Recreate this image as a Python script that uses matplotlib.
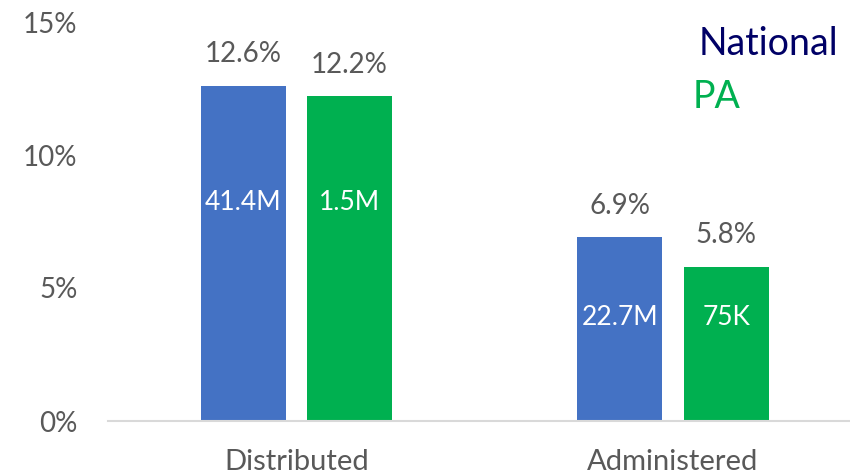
import matplotlib.pyplot as plt
import numpy as np

# ---------- datos ----------
categories = ['Distributed', 'Administered']
national_pct = [12.6, 6.9]
pa_pct = [12.2, 5.8]
national_counts = ['41.4M', '22.7M']
pa_counts = ['1.5M', '75K']
count_label_y = [8.2, 3.9]   # posición vertical aprox. de las etiquetas internas

blue = '#4472C4'
green = '#00B050'
navy = '#000066'
grey = '#595959'

plt.rcParams['font.family'] = ['Lato', 'DejaVu Sans']

fig = plt.figure(figsize=(8.5, 4.76), dpi=100)
ax = fig.add_axes([108 / 850, (476 - 421) / 476, 1 - 108 / 850, (421 - 22) / 476])

x = np.arange(len(categories))
w = 0.226
off = 0.141

b1 = ax.bar(x - off, national_pct, w, color=blue, zorder=2)
b2 = ax.bar(x + off, pa_pct, w, color=green, zorder=2)

# etiquetas de porcentaje encima de las barras
for bars, vals in ((b1, national_pct), (b2, pa_pct)):
    for r, v in zip(bars, vals):
        ax.text(r.get_x() + r.get_width() / 2, v + 1.2, f'{v}%',
                ha='center', va='center', fontsize=20, color=grey)

# etiquetas internas (conteos)
for bars, labs in ((b1, national_counts), (b2, pa_counts)):
    for r, lab, yy in zip(bars, labs, count_label_y):
        ax.text(r.get_x() + r.get_width() / 2, yy, lab,
                ha='center', va='center', fontsize=19, color='white')

ax.set_xlim(-0.5, 1.47)
ax.set_ylim(0, 15)
ax.set_yticks([0, 5, 10, 15])
ax.set_yticklabels(['0%', '5%', '10%', '15%'])
ax.set_xticks(x)
ax.set_xticklabels(categories)
ax.tick_params(axis='y', length=0, pad=22, labelsize=20, labelcolor=grey)
ax.tick_params(axis='x', length=0, pad=20, labelsize=21, labelcolor=grey)

for s in ('top', 'right', 'left'):
    ax.spines[s].set_visible(False)
ax.spines['bottom'].set_color('#D9D9D9')
ax.spines['bottom'].set_linewidth(1.5)

# leyenda como texto
fig.text(838 / 850, 1 - 44 / 476, 'National', ha='right', va='center',
         fontsize=27, color=navy)
fig.text(693 / 850, 1 - 97 / 476, 'PA', ha='left', va='center',
         fontsize=27, color=green)

fig.savefig('out.png', dpi=100)
